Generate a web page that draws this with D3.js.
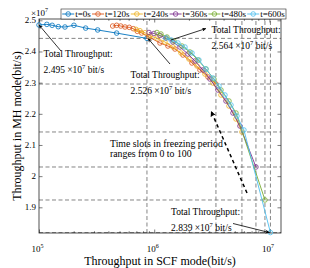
<!DOCTYPE html>
<html>
<head>
<meta charset="utf-8">
<script src="https://cdn.jsdelivr.net/npm/d3@7"></script>
<style>
  body { margin: 0; background: #fff; }
  text { font-family: "Liberation Serif", "DejaVu Serif", serif; fill: #000; }
</style>
</head>
<body>
<div id="chart"></div>
<script>
// SCF throughput (bit/s) and MH throughput (bit/s) for each time t
const scf0 = [1.00e5, 1.17e5, 1.30e5, 1.47e5, 1.68e5, 2.01e5, 2.54e5, 3.23e5, 4.72e5, 8.65e5];
const mh0 = [2.485e7, 2.487e7, 2.484e7, 2.4795e7, 2.4785e7, 2.484e7, 2.475e7, 2.469e7, 2.459e7, 2.442e7];

const scf120 = [4.36e5, 4.72e5, 5.12e5, 5.58e5, 6.07e5, 6.58e5, 7.13e5, 7.78e5, 9.00e5, 1.122e6, 1.316e6, 1.514e6, 1.777e6, 2.126e6, 2.495e6, 2.93e6, 3.434e6];
const mh120 = [2.4817e7, 2.484e7, 2.4817e7, 2.4785e7, 2.4775e7, 2.4731e7, 2.4647e7, 2.4593e7, 2.4464e7, 2.4272e7, 2.4175e7, 2.4079e7, 2.3887e7, 2.363e7, 2.3406e7, 2.3181e7, 2.2956e7];

const scf240 = [6.95e5, 7.52e5, 8.31e5, 9.19e5, 1.056e6, 1.24e6, 1.454e6, 1.707e6, 2.002e6, 2.349e6, 2.756e6, 3.234e6, 3.796e6, 4.454e6, 5.122e6, 5.772e6];
const mh240 = [2.4711e7, 2.4666e7, 2.4602e7, 2.4496e7, 2.4432e7, 2.4304e7, 2.4143e7, 2.3951e7, 2.3758e7, 2.3534e7, 2.3277e7, 2.2988e7, 2.2604e7, 2.2251e7, 2.1834e7, 2.1417e7];

const scf360 = [9.00e5, 9.95e5, 1.122e6, 1.265e6, 1.454e6, 1.673e6, 1.963e6, 2.258e6, 2.649e6, 3.046e6, 3.574e6, 4.195e6, 4.825e6, 5.546e6, 7.637e6];
const mh360 = [2.4609e7, 2.4577e7, 2.4512e7, 2.4432e7, 2.4304e7, 2.4143e7, 2.3919e7, 2.3694e7, 2.3406e7, 2.3117e7, 2.2764e7, 2.2411e7, 2.2026e7, 2.1609e7, 2.0294e7];

const scf480 = [1.056e6, 1.144e6, 1.29e6, 1.484e6, 1.741e6, 2.043e6, 2.397e6, 2.812e6, 3.299e6, 3.796e6, 4.454e6, 5.122e6, 9.142e6];
const mh480 = [2.4609e7, 2.456e7, 2.4464e7, 2.4336e7, 2.4175e7, 2.3983e7, 2.3726e7, 2.3438e7, 2.3117e7, 2.2764e7, 2.2411e7, 2.2026e7, 1.9235e7];

const scf600 = [1.265e6, 1.397e6, 1.607e6, 1.849e6, 2.126e6, 2.445e6, 2.812e6, 3.234e6, 3.647e6, 4.111e6, 4.636e6, 5.224e6, 6.007e6, 1.02e7];
const mh600 = [2.4432e7, 2.4368e7, 2.4272e7, 2.4143e7, 2.3951e7, 2.3726e7, 2.3438e7, 2.3149e7, 2.2892e7, 2.2604e7, 2.2283e7, 2.193e7, 2.1481e7, 1.819e7];

const names = ['t=0s', 't=120s', 't=240s', 't=360s', 't=480s', 't=600s'];
const colors = ['#0072BD', '#D95319', '#EDB120', '#7E2F8E', '#77AC30', '#4DBEEE'];
const xTicks = [1e5, 1e6, 1e7];
const yTicks = [1.9e7, 2.0e7, 2.1e7, 2.2e7, 2.3e7, 2.4e7, 2.5e7];
const totals = ['2.495', '2.526', '2.564', '2.839'];

const series = [[scf0, mh0], [scf120, mh120], [scf240, mh240], [scf360, mh360], [scf480, mh480], [scf600, mh600]]
  .map(([a, b], i) => ({ name: names[i], color: colors[i], pts: a.map((v, j) => [v, b[j]]) }));

const width = 310;
const height = 268;
const margin = { top: 19, right: 29, bottom: 35, left: 39 };

const svg = d3.select('#chart').append('svg')
  .attr('width', width).attr('height', height);

const x = d3.scaleLog()
  .domain([1e5, 1.26e7])
  .range([margin.left, width - margin.right]);

const y = d3.scaleLinear()
  .domain([1.8176e7, 2.5042e7])
  .range([height - margin.bottom, margin.top]);

const x0 = margin.left, x1 = width - margin.right;
const y0 = height - margin.bottom, y1 = margin.top;

const defs = svg.append('defs');
defs.append('marker').attr('id', 'head')
  .attr('viewBox', '0 0 10 10').attr('refX', 10).attr('refY', 5)
  .attr('markerUnits', 'userSpaceOnUse').attr('markerWidth', 5).attr('markerHeight', 4)
  .attr('orient', 'auto')
  .append('path').attr('d', 'M0,0L10,5L0,10L3,5Z').attr('fill', '#000');
defs.append('marker').attr('id', 'bighead')
  .attr('viewBox', '0 0 10 10').attr('refX', 10).attr('refY', 5)
  .attr('markerUnits', 'userSpaceOnUse').attr('markerWidth', 7).attr('markerHeight', 6)
  .attr('orient', 'auto')
  .append('path').attr('d', 'M0,0L10,5L0,10L3,5Z').attr('fill', '#000');

// reference dashed lines through the end point of every curve
const ends = series.map(s => s.pts[s.pts.length - 1]);
const refs = svg.append('g').attr('stroke', '#666').attr('stroke-width', 0.8).attr('stroke-dasharray', '4,2.5');
refs.selectAll('.v').data(ends).join('line')
  .attr('x1', d => x(d[0])).attr('x2', d => x(d[0])).attr('y1', y0).attr('y2', y1);
refs.selectAll('.h').data(ends).join('line')
  .attr('x1', x0).attr('x2', x1).attr('y1', d => y(d[1])).attr('y2', d => y(d[1]));

// axes (inward ticks, boxed)
let xMinor = [];
[1e5, 1e6, 1e7].forEach(k => d3.range(2, 10).forEach(m => { if (m * k < 1.26e7) xMinor.push(m * k); }));

function tickG(axis, transform) {
  const g = svg.append('g').attr('transform', transform).call(axis);
  g.select('.domain').remove();
  g.selectAll('line').attr('stroke', '#262626').attr('stroke-width', 0.6);
  g.selectAll('text').remove();
  return g;
}
tickG(d3.axisBottom(x).tickValues(xTicks).tickSize(-3.5), `translate(0,${y0})`);
tickG(d3.axisBottom(x).tickValues(xMinor).tickSize(-1.8), `translate(0,${y0})`);
tickG(d3.axisTop(x).tickValues(xTicks).tickSize(-3.5), `translate(0,${y1})`);
tickG(d3.axisTop(x).tickValues(xMinor).tickSize(-1.8), `translate(0,${y1})`);
tickG(d3.axisLeft(y).tickValues(yTicks).tickSize(-3.5), `translate(${x0},0)`);
tickG(d3.axisRight(y).tickValues(yTicks).tickSize(-3.5), `translate(${x1},0)`);

svg.append('rect')
  .attr('x', x0).attr('y', y1).attr('width', x1 - x0).attr('height', y0 - y1)
  .attr('fill', 'none').attr('stroke', '#262626').attr('stroke-width', 0.8);

svg.append('g').selectAll('text').data(yTicks).join('text')
  .attr('x', x0 - 3).attr('y', d => y(d) + 3)
  .attr('text-anchor', 'end').attr('font-size', 9)
  .text(d => +(d / 1e7).toFixed(1));

const xl = svg.append('g').selectAll('text').data(xTicks).join('text')
  .attr('x', d => x(d) - 1.5).attr('y', 252)
  .attr('text-anchor', 'middle').attr('font-size', 9);
xl.append('tspan').text('10');
xl.append('tspan').attr('dy', -4).attr('font-size', 6).text(d => Math.round(Math.log10(d)));

const sc = svg.append('text').attr('x', 31).attr('y', 15.5).attr('font-size', 9);
sc.append('tspan').text('\u00d710');
sc.append('tspan').attr('dy', -4).attr('font-size', 6).text('7');

svg.append('text')
  .attr('x', (x0 + x1) / 2).attr('y', 265)
  .attr('text-anchor', 'middle').attr('font-size', 12)
  .text('Throughput in SCF mode(bit/s)');

svg.append('text')
  .attr('transform', `translate(21,${(y0 + y1) / 2}) rotate(-90)`)
  .attr('text-anchor', 'middle').attr('font-size', 12)
  .text('Throughput in MH mode(bit/s)');

// curves
const line = d3.line().x(d => x(d[0])).y(d => y(d[1]));
const sg = svg.append('g').selectAll('g').data(series).join('g');
sg.append('path')
  .attr('d', d => line(d.pts))
  .attr('fill', 'none').attr('stroke', d => d.color).attr('stroke-width', 0.9);
sg.each(function (s) {
  d3.select(this).selectAll('circle').data(s.pts).join('circle')
    .attr('cx', d => x(d[0])).attr('cy', d => y(d[1])).attr('r', 2.3)
    .attr('fill', 'none').attr('stroke', s.color).attr('stroke-width', 0.8);
});

// annotations
function note(tx, ty, total) {
  const t = svg.append('text').attr('x', tx).attr('y', ty).attr('font-size', 9.5);
  t.append('tspan').attr('x', tx).text('Total Throughput:');
  t.append('tspan').attr('x', tx).attr('dy', 16).text(total + ' \u00d710');
  t.append('tspan').attr('dy', -4).attr('font-size', 6.5).text('7');
  t.append('tspan').attr('dy', 4).text(' bit/s');
}
function arrow(ax, ay, bx, by, id) {
  svg.append('line')
    .attr('x1', ax).attr('y1', ay).attr('x2', bx).attr('y2', by)
    .attr('stroke', '#000').attr('stroke-width', 0.8)
    .attr('marker-end', `url(#${id || 'head'})`);
}

note(43.5, 57, totals[0]);
arrow(61, 51, x(scf0[0]), y(mh0[0]));

note(130.5, 77.5, totals[1]);
arrow(170, 64, x(ends[0][0]) + 1, y(ends[0][1]));

note(211.5, 33, totals[2]);
arrow(x(scf600[1]), y(mh600[1]), 206, 28.5);

note(171, 214.5, totals[3]);
arrow(233, 223.5, x(ends[5][0]) - 1, y(ends[5][1]));

svg.append('line')
  .attr('x1', 247).attr('y1', 193).attr('x2', 211).attr('y2', 111)
  .attr('stroke', '#000').attr('stroke-width', 1.5).attr('stroke-dasharray', '3.5,3')
  .attr('marker-end', 'url(#bighead)');

const ts = svg.append('text').attr('font-size', 9.8);
ts.append('tspan').attr('x', 110).attr('y', 147).text('Time slots in freezing period');
ts.append('tspan').attr('x', 110).attr('y', 157).text('ranges from 0 to 100');

// legend
const lg = svg.append('g');
lg.append('rect')
  .attr('x', 61).attr('y', 9).attr('width', 225).attr('height', 10)
  .attr('fill', '#fff').attr('stroke', '#262626').attr('stroke-width', 0.6);
const items = lg.selectAll('g').data(series).join('g');
items.append('text').attr('font-size', 9).attr('y', 17).text(d => d.name);
const widths = [];
items.select('text').each(function () { widths.push(this.getComputedTextLength()); });
const used = d3.sum(widths) + series.length * 13;
const gap = (225 - used) / (series.length + 1);
let cx = 61 + gap;
items.each(function (d, i) {
  const g = d3.select(this);
  g.insert('line', 'text').attr('x1', cx).attr('x2', cx + 12).attr('y1', 14).attr('y2', 14)
    .attr('stroke', d.color).attr('stroke-width', 0.9);
  g.insert('circle', 'text').attr('cx', cx + 6).attr('cy', 14).attr('r', 2.3)
    .attr('fill', 'none').attr('stroke', d.color).attr('stroke-width', 0.8);
  g.select('text').attr('x', cx + 13);
  cx += 13 + widths[i] + gap;
});
</script>
</body>
</html>
